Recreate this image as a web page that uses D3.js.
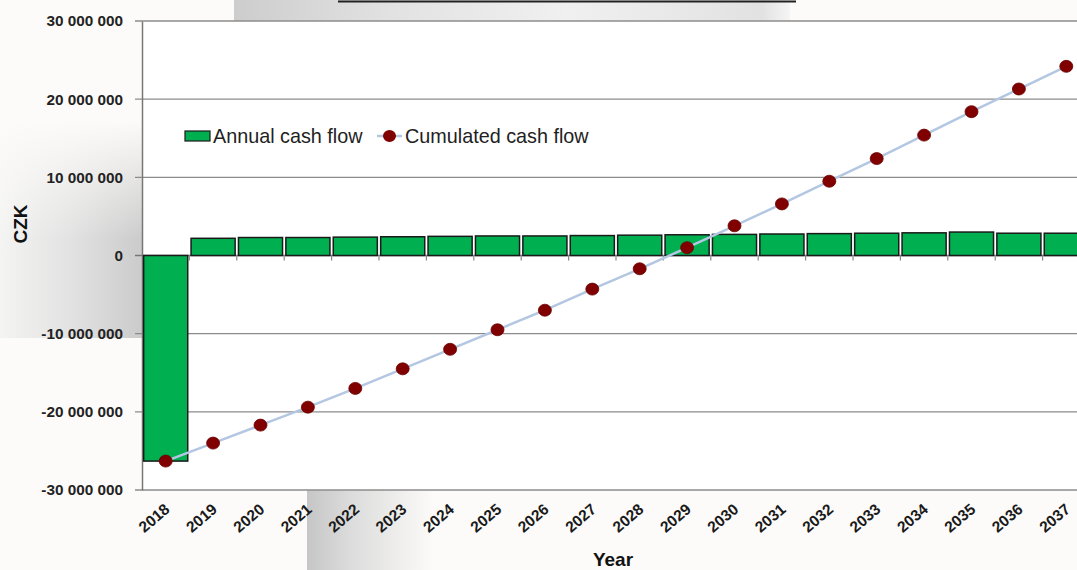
<!DOCTYPE html>
<html><head><meta charset="utf-8">
<script src="https://cdn.jsdelivr.net/npm/d3@7"></script>
<style>html,body{margin:0;padding:0;background:#fcfbf9;overflow:hidden}</style>
</head><body>
<svg id="c" width="1077" height="570"></svg>
<script>
const years = ["2018","2019","2020","2021","2022","2023","2024","2025","2026","2027","2028","2029","2030","2031","2032","2033","2034","2035","2036","2037"];
const annual = [-26300000,2200000,2300000,2300000,2350000,2400000,2450000,2500000,2500000,2550000,2600000,2650000,2700000,2750000,2800000,2850000,2900000,3000000,2850000,2850000];
const cumulated = [-26300000,-24000000,-21700000,-19400000,-17000000,-14500000,-12000000,-9500000,-7000000,-4300000,-1700000,1000000,3800000,6600000,9500000,12400000,15400000,18400000,21300000,24200000];
const yTicks = [-30000000,-20000000,-10000000,0,10000000,20000000,30000000];
const seriesNames = ["Annual cash flow","Cumulated cash flow"];

const svg = d3.select("#c");
const defs = svg.append("defs");
function grad(id, x2, y2, stops){
  const g = defs.append("linearGradient").attr("id",id).attr("x1",0).attr("y1",0).attr("x2",x2).attr("y2",y2);
  stops.forEach(s=>g.append("stop").attr("offset",s[0]).attr("stop-color",s[1]).attr("stop-opacity",s[2]===undefined?1:s[2]));
}
grad("gl",1,0,[[0,"#f4f4f3"],[0.5,"#e2e2e2"],[1,"#cbcbcb"]]);
grad("glv",0,1,[[0,"#fcfbf9",1],[0.55,"#fcfbf9",0],[1,"#fcfbf9",0]]);
grad("gb",1,0,[[0,"#c6c6c6"],[0.35,"#dcdcdc"],[1,"#fbfaf8"]]);
grad("gt",1,0,[[0,"#cdcdcd"],[0.3,"#e3e3e3"],[0.6,"#f0f0f0"],[0.95,"#e2e2e2"],[1,"#f5f5f5"]]);

// background slide shapes
svg.append("rect").attr("x",0).attr("y",120).attr("width",142).attr("height",218).attr("fill","url(#gl)");
svg.append("rect").attr("x",0).attr("y",120).attr("width",142).attr("height",218).attr("fill","url(#glv)");
svg.append("rect").attr("x",307).attr("y",490).attr("width",125).attr("height",80).attr("fill","url(#gb)");
svg.append("rect").attr("x",234).attr("y",0).attr("width",556).attr("height",21).attr("fill","url(#gt)");
svg.append("line").attr("x1",338).attr("x2",796).attr("y1",1.5).attr("y2",1.5).attr("stroke","#222").attr("stroke-width",2);

const m = {left:142, top:21, bottom:490};
const plotRight = 142 + 47.4*20;
const x = d3.scaleBand().domain(years).range([m.left, plotRight]).paddingInner(0.07).paddingOuter(0.035);
const y = d3.scaleLinear().domain([-30000000,30000000]).range([m.bottom, m.top]);

svg.append("rect").attr("x",m.left).attr("y",m.top).attr("width",plotRight-m.left).attr("height",m.bottom-m.top).attr("fill","#fff");

// gridlines
svg.append("g").selectAll("line").data(yTicks).join("line")
  .attr("x1",m.left-7).attr("x2",plotRight).attr("y1",d=>y(d)).attr("y2",d=>y(d))
  .attr("stroke",d=>d===0?"#777":"#8c8c8c").attr("stroke-width",1.3);

// y axis
const yAxis = d3.axisLeft(y).tickValues(yTicks).tickSize(0).tickPadding(19)
  .tickFormat(d=>d3.format(",")(d).replace(/,/g," ").replace("−","-"));
const ya = svg.append("g").attr("transform",`translate(${m.left},0)`).call(yAxis);
ya.select(".domain").attr("stroke","#777").attr("stroke-width",1.5);
ya.selectAll("text").attr("font-family","Liberation Sans, Arial, sans-serif").attr("font-weight","bold").attr("font-size","15.3px").attr("fill","#222");

// bars
svg.append("g").selectAll("rect").data(years).join("rect")
  .attr("x",d=>x(d)).attr("width",x.bandwidth())
  .attr("y",(d,i)=>y(Math.max(0,annual[i]))).attr("height",(d,i)=>Math.abs(y(annual[i])-y(0)))
  .attr("fill","#00b050").attr("stroke","#1a1a1a").attr("stroke-width",1.5);

// category ticks on zero line
const step = x.step();
svg.append("g").selectAll("line").data(years.slice(1)).join("line")
  .attr("x1",d=>x(d)-step*0.035).attr("x2",d=>x(d)-step*0.035)
  .attr("y1",y(0)).attr("y2",y(0)+5).attr("stroke","#888").attr("stroke-width",1.2);

// x axis labels
const xa = svg.append("g").attr("transform",`translate(0,${m.bottom})`)
  .call(d3.axisBottom(x).tickSize(0).tickPadding(0));
xa.select(".domain").remove();
xa.selectAll("text")
  .attr("font-family","Liberation Sans, Arial, sans-serif").attr("font-weight","bold").attr("font-size","15.5px").attr("fill","#1a1a1a")
  .attr("text-anchor","end").attr("dy","0").attr("y",0)
  .attr("transform","translate(5,21) rotate(-40)");

// cumulative line
const cx = d => x(d) + x.bandwidth()/2;
svg.append("path").datum(years)
  .attr("d", d3.line().x(d=>cx(d)).y((d,i)=>y(cumulated[i])))
  .attr("fill","none").attr("stroke","#b3c7e2").attr("stroke-width",2.5);
svg.append("g").selectAll("ellipse").data(years).join("ellipse")
  .attr("cx",d=>cx(d)).attr("cy",(d,i)=>y(cumulated[i])).attr("rx",6.5).attr("ry",6)
  .attr("fill","#800000").attr("stroke","#6a0000").attr("stroke-width",0.8);

// axis titles
svg.append("text").attr("x",613).attr("y",566).attr("text-anchor","middle")
  .attr("font-family","Liberation Sans, Arial, sans-serif").attr("font-weight","bold").attr("font-size","19px").attr("fill","#111").text("Year");
svg.append("text").attr("transform","translate(27,224) rotate(-90)").attr("text-anchor","middle")
  .attr("font-family","Liberation Sans, Arial, sans-serif").attr("font-weight","bold").attr("font-size","19px").attr("fill","#111").text("CZK");

// legend
const lg = svg.append("g").attr("font-family","Liberation Sans, Arial, sans-serif").attr("font-size","19.8px").attr("fill","#222");
lg.append("rect").attr("x",185).attr("y",131).attr("width",25).attr("height",10).attr("fill","#00b050").attr("stroke","#1a1a1a").attr("stroke-width",1.2);
lg.append("text").attr("x",213).attr("y",143).text(seriesNames[0]);
lg.append("line").attr("x1",377).attr("x2",402).attr("y1",136).attr("y2",136).attr("stroke","#b3c7e2").attr("stroke-width",2.5);
lg.append("ellipse").attr("cx",389.5).attr("cy",136).attr("rx",6.5).attr("ry",6).attr("fill","#800000");
lg.append("text").attr("x",405).attr("y",143).text(seriesNames[1]);
</script>
</body></html>
